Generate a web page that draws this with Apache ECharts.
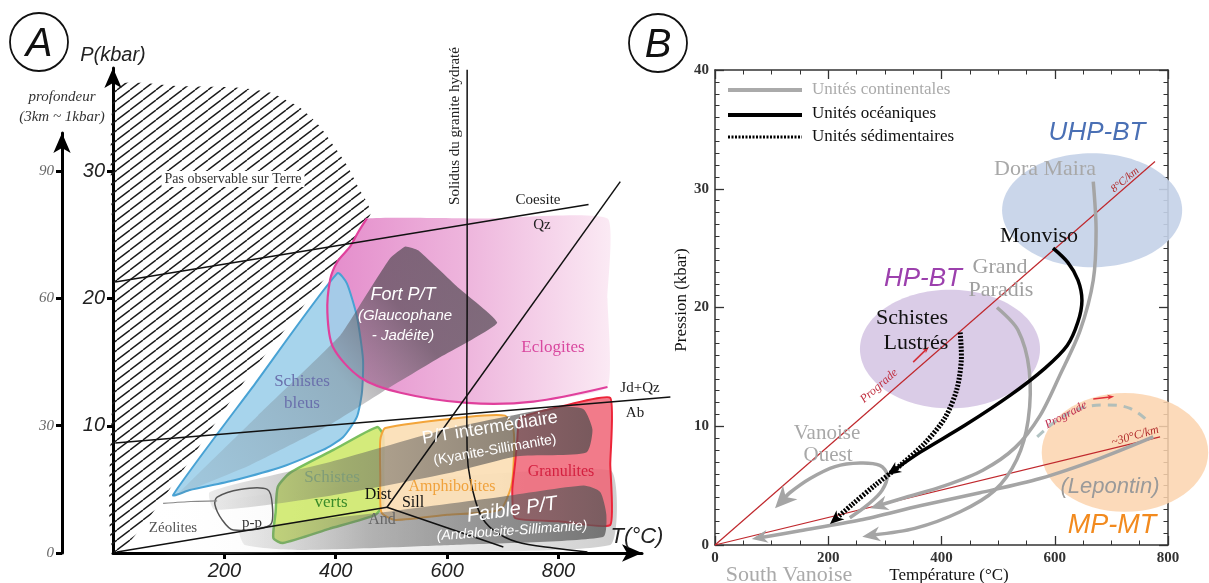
<!DOCTYPE html>
<html><head><meta charset="utf-8">
<script src="https://cdn.jsdelivr.net/npm/echarts@6/dist/echarts.min.js"></script>
<style>html,body{margin:0;padding:0;background:#fff}#c{width:1209px;height:583px}</style>
</head><body><div id="c"></div>
<script>
// ================= PANEL A data (T in °C, P in kbar) =================
const tempTicksA = [200, 400, 600, 800];
const presTicksA = [10, 20, 30];
const depthTicksA = [0, 30, 60, 90];
const hatchZone = [[4,0],[4,18],[4,36.6],[120,36.7],[219,36.6],[282,36.2],[336,35.0],[370,33.6],[395,32.1],[420,30.5],[440,28.8],[462,26.6],[233,13.3]];
const solidus = [[636,38.0],[636,20],[636,7.9],[642,5.7],[659,3.1],[683,1.8],[726,0.86],[791,0.39],[852,0.08]];
const coesiteQz = [[4,21.3],[854,27.4]];
const jdQzAb = [[4,8.65],[1001,12.26]];
const andDist = [[7,0.08],[492,3.6]];
const andSill = [[492,3.6],[701,0.47]];
const distSill = [[492,3.6],[911,29.2]];
const eclogiteEdge = [[888,13.05],[755,11.9],[636,11.8],[516,12.6],[444,13.8],[395,16.2],[385,18.9],[390,21.5],[403,22.9],[426,24.1],[440,25.2],[456,26.3]];
const eclogiteTop = [[672,26.3],[888,26.3],[888,20]];
const schistesBleus = [[108,4.56],[255,13.3],[403,22.0],[420,21.2],[438,18.6],[449,15.2],[447,12.6],[438,10.7],[413,9.1],[377,8.1],[305,6.8],[216,5.7],[138,4.95]];
const fortBand = [[111,4.4],[260,10.8],[408,17.1],[455,20.3],[498,23.2],[525,24.1],[548,23.8],[619,20.9],[690,18.1],[588,15.4],[485,12.7],[390,10.1],[246,6.9],[138,4.95]];
const schistesVerts = [[288,1.18],[292,3.2],[296,5.2],[318,6.3],[396,8.1],[474,9.9],[485,9.3],[485,6.5],[485,3.8],[471,3.0],[388,1.9],[305,0.79]];
const amphibolites = [[489,9.83],[636,10.7],[704,10.8],[719,9.7],[720,7.5],[715,5.2],[695,3.4],[600,3.0],[507,2.6],[482,3.2],[480,6.0],[480,8.9]];
const granulites = [[731,10.6],[803,11.5],[893,12.2],[893,7.0],[893,2.2],[800,2.5],[722,2.75],[717,4.95],[722,7.0],[726,8.9]];
const ptInterBand = [[174,4.8],[390,7.15],[606,9.8],[803,11.5],[845,11.3],[861,9.7],[850,7.9],[726,7.6],[606,6.3],[390,4.5],[183,3.4]];
const faibleBand = [[228,1.81],[485,3.2],[695,4.4],[845,5.3],[875,4.8],[886,3.0],[880,1.26],[606,0.63],[336,0.24],[237,0.63]];
const zeolitesZone = [[90,3.9],[187,4.1],[336,4.95],[893,6.5],[893,0.63],[336,0.08],[49,0.08]];
const zeoliteEdge = [[90,3.9],[140,4.05],[187,4.1]];
const ppZone = [[187,4.4],[228,5.0],[277,5.0],[286,3.8],[282,2.2],[216,1.8],[196,2.6],[183,3.8]];

// ================= PANEL B data (T in °C, P in kbar) =================
const uhpEllipse = [666, 28.2, 159, 4.8];   // centre T, centre P, radius T, radius P
const hpEllipse  = [415, 16.5, 159, 5.0];
const mpEllipse  = [724, 7.8, 147, 5.0];
const geotherm8  = [[0,0],[777,32.3]];
const geotherm30 = [[0,0],[786,9.1]];
const progradeArrow1 = [[350,15.4],[378,16.7]];
const progradeArrow2 = [[668,12.3],[705,12.5]];
const lepontinArc = [[569,9.1],[604,10.5],[645,11.5],[692,11.8],[733,11.5],[763,10.5]];
const monviso = [[597,25.0],[623,23.8],[641,22.3],[648,20.6],[641,18.8],[622,16.8],[583,14.9],[521,12.6],[442,10.1],[362,7.8],[304,5.9]];
const schistesLustres = [[433,17.9],[435,15.6],[427,13.1],[406,10.7],[371,8.6],[327,6.7],[283,5.05],[242,3.4],[203,1.77]];
const doraMaira = [[668,30.6],[673,26.5],[668,22.3],[645,18.1],[609,14.3],[574,10.9],[530,8.2],[473,6.3],[406,5.0],[336,4.0],[274,3.1]];
const grandParadis = [[498,20.0],[535,18.1],[555,14.7],[553,10.5],[533,7.2],[494,4.6],[433,2.8],[353,1.4],[260,0.7]];
const vanoiseOuest = [[238,2.3],[270,3.4],[295,4.6],[304,5.9],[291,6.7],[256,6.9],[212,6.6],[168,5.6],[132,4.4],[106,3.1]];
const lepontin = [[774,9.1],[680,7.3],[574,5.6],[468,4.4],[362,3.3],[256,2.1],[150,1.2],[65,0.5]];

// ================= helpers =================
const SERIF = "'Liberation Serif','DejaVu Serif',serif";
const SANS = "'Liberation Sans','DejaVu Sans',sans-serif";
const LG = (x0,y0,x1,y1,stops) => new echarts.graphic.LinearGradient(x0,y0,x1,y1,stops.map(s=>({offset:s[0],color:s[1]})));

const pc = document.createElement('canvas'); pc.width = 13; pc.height = 10;
(function(){ const g = pc.getContext('2d'); g.strokeStyle = '#1a1a1a'; g.lineWidth = 1.4;
  [-13,0,13].forEach(ox => { g.beginPath(); g.moveTo(ox,10); g.lineTo(ox+13,0); g.stroke(); }); })();
const hatchPattern = {image: pc, repeat: 'repeat'};

function polygonEl(c, pts, style, smooth){ return {type:'polygon', shape:{points:pts.map(c), smooth: smooth||0}, style: style}; }
function polylineEl(c, pts, style, smooth){ return {type:'polyline', shape:{points:pts.map(c), smooth: smooth||0}, style: Object.assign({fill:'none', lineJoin:'round'}, style)}; }
function pathWithArrow(c, path, style, L, W, smooth){
  const pts = path.map(c);
  const b = pts[pts.length-1], a = pts[pts.length-2];
  const dx=b[0]-a[0], dy=b[1]-a[1], d=Math.hypot(dx,dy)||1, ux=dx/d, uy=dy/d, nx=-uy, ny=ux;
  const linePts = pts.slice(0,-1).concat([[b[0]-ux*L*0.6, b[1]-uy*L*0.6]]);
  return [
    {type:'polyline', shape:{points:linePts, smooth:smooth||0}, style:Object.assign({fill:'none', lineJoin:'round'}, style)},
    {type:'polygon', shape:{points:[b,[b[0]-ux*L+nx*W/2, b[1]-uy*L+ny*W/2],[b[0]-ux*L*0.7, b[1]-uy*L*0.7],[b[0]-ux*L-nx*W/2, b[1]-uy*L-ny*W/2]]}, style:{fill: style.stroke}}
  ];
}

function renderA(params, api){
  const c = p => api.coord(p);
  const ch = [];
  ch.push(polygonEl(c, zeolitesZone, {fill: LG(0,0,1,0,[[0,'rgba(255,255,255,0)'],[1,'rgba(185,185,185,0.7)']])}, 0.15));
  ch.push(polygonEl(c, hatchZone, {fill: hatchPattern}, 0.2));
  ch.push(polygonEl(c, eclogiteEdge.concat(eclogiteTop), {fill: LG(0,0,1,0,[[0,'#e48ccb'],[0.5,'#eeb6dd'],[1,'#fbeaf4']])}, 0.15));
  ch.push(polygonEl(c, schistesBleus, {fill:'rgba(160,208,234,0.92)', stroke:'#48a2d4', lineWidth:2}, 0.2));
  ch.push(polygonEl(c, schistesVerts, {fill:'rgba(204,232,100,0.85)', stroke:'#7bbf5e', lineWidth:2.5}, 0.2));
  ch.push(polygonEl(c, amphibolites, {fill:'rgba(251,222,180,0.9)', stroke:'#f3a53a', lineWidth:2}, 0.2));
  ch.push(polygonEl(c, granulites, {fill:'rgba(240,100,118,0.85)', stroke:'#ec2438', lineWidth:2}, 0.15));
  ch.push(polygonEl(c, fortBand, {fill: LG(0,1,1,0,[[0,'rgba(120,120,125,0.12)'],[0.5,'rgba(105,105,110,0.35)'],[0.72,'rgba(85,75,85,0.7)'],[1,'rgba(85,75,85,0.75)']])}, 0.12));
  ch.push(polygonEl(c, ptInterBand, {fill: LG(0,0,1,0,[[0,'rgba(120,120,120,0.15)'],[0.35,'rgba(95,95,95,0.45)'],[1,'rgba(80,78,78,0.75)']])}, 0.2));
  ch.push(polygonEl(c, faibleBand, {fill: LG(0,0,1,0,[[0,'rgba(130,130,130,0.15)'],[0.35,'rgba(100,100,100,0.45)'],[1,'rgba(85,85,85,0.75)']])}, 0.2));
  ch.push(polylineEl(c, eclogiteEdge, {stroke:'#e0409c', lineWidth:2.2}, 0.3));
  ch.push(polygonEl(c, ppZone, {fill:'none', stroke:'#555', lineWidth:1.5}, 0.3));
  ch.push(polylineEl(c, zeoliteEdge, {stroke:'#888', lineWidth:1.2}, 0.2));
  const blk = {stroke:'#111', lineWidth:1.5};
  ch.push(polylineEl(c, solidus, blk, 0.3));
  ch.push(polylineEl(c, coesiteQz, blk));
  ch.push(polylineEl(c, jdQzAb, blk));
  ch.push(polylineEl(c, andDist, blk));
  ch.push(polylineEl(c, andSill, blk));
  ch.push(polylineEl(c, distSill, blk));
  return {type:'group', children: ch};
}

function renderB(params, api){
  const c = p => api.coord(p);
  const ch = [];
  const ell = (e, fill) => { const ctr = c([e[0], e[1]]); const s = api.size([e[2], e[3]]); return {type:'ellipse', shape:{cx:ctr[0], cy:ctr[1], rx:s[0], ry:s[1]}, style:{fill}}; };
  ch.push(ell(uhpEllipse, 'rgba(196,210,232,0.9)'));
  ch.push(ell(hpEllipse, 'rgba(214,198,228,0.9)'));
  ch.push(ell(mpEllipse, 'rgba(252,212,174,0.85)'));
  const red = {stroke:'#c0282d', lineWidth:1.2};
  ch.push(polylineEl(c, geotherm8, red));
  ch.push(polylineEl(c, geotherm30, red));
  ch.push(...pathWithArrow(c, progradeArrow1, {stroke:'#d4303a', lineWidth:1.6}, 7, 5));
  ch.push(...pathWithArrow(c, progradeArrow2, {stroke:'#e0303a', lineWidth:1.6}, 7, 5));
  ch.push(polylineEl(c, lepontinArc, {stroke:'rgba(165,185,185,0.85)', lineWidth:3, lineDash:[9,7]}, 0.4));
  const gray = {stroke:'#a5a5a5', lineWidth:3.5};
  ch.push(...pathWithArrow(c, lepontin, gray, 16, 13, 0.3));
  ch.push(...pathWithArrow(c, grandParadis, gray, 18, 15, 0.3));
  ch.push(...pathWithArrow(c, doraMaira, gray, 18, 15, 0.3));
  ch.push(...pathWithArrow(c, vanoiseOuest, gray, 22, 20, 0.35));
  ch.push(...pathWithArrow(c, monviso, {stroke:'#000', lineWidth:3.5}, 14, 12, 0.3));
  ch.push(...pathWithArrow(c, schistesLustres, {stroke:'#000', lineWidth:5, lineDash:[2,1.5]}, 14, 12, 0.3));
  return {type:'group', children: ch};
}

// ================= annotations (graphic) =================
function txt(x, y, s, font, fill, rot, extra){
  return {type:'text', x:x, y:y, rotation:(rot||0)*Math.PI/180, z:100, silent:true,
    style:Object.assign({text:s, font:font, fill:fill, align:'center', verticalAlign:'middle'}, extra||{})};
}
function circ(x, y, r){ return {type:'circle', z:100, silent:true, shape:{cx:x, cy:y, r:r}, style:{fill:'none', stroke:'#111', lineWidth:1.8}}; }
function seg(x1,y1,x2,y2,stroke,w,dash){ return {type:'line', z:100, silent:true, shape:{x1,y1,x2,y2}, style:{stroke, lineWidth:w, lineDash:dash||null}}; }

const graphics = [
  circ(39,42,29), txt(39,45,'A','italic 40px '+SANS,'#111'),
  txt(113,55,'P(kbar)','italic 20px '+SANS,'#222'),
  txt(62,97,'profondeur','italic 15px '+SERIF,'#333'),
  txt(62,117,'(3km ~ 1kbar)','italic 15px '+SERIF,'#333'),
  txt(233,179,'Pas observable sur Terre','14px '+SERIF,'#333',0,{backgroundColor:'#fff', padding:[1,3]}),
  txt(455,126,'Solidus du granite hydraté','15px '+SERIF,'#222',90),
  txt(538,200,'Coesite','15px '+SERIF,'#222'),
  txt(542,225,'Qz','15px '+SERIF,'#222'),
  txt(640,388,'Jd+Qz','15px '+SERIF,'#222'),
  txt(635,413,'Ab','15px '+SERIF,'#222'),
  txt(403,295,'Fort P/T','italic 18px '+SANS,'#fff'),
  txt(405,316,'(Glaucophane','italic 15px '+SANS,'#fff'),
  txt(403,336,'- Jadéite)','italic 15px '+SANS,'#fff'),
  txt(553,348,'Eclogites','17px '+SERIF,'#d9489f'),
  txt(302,382,'Schistes','17px '+SERIF,'#6a70ac'),
  txt(302,404,'bleus','17px '+SERIF,'#6a70ac'),
  txt(490,428,'P/T intermédiaire','18px '+SANS,'#fff',9),
  txt(495,450,'(Kyanite-Sillimanite)','14px '+SANS,'#fff',10),
  txt(452,487,'Amphibolites','16px '+SERIF,'#f0a23c'),
  txt(561,472,'Granulites','16px '+SERIF,'#d42040'),
  txt(512,510,'Faible P/T','italic 20px '+SANS,'#fff',8),
  txt(512,531,'(Andalousite-Sillimanite)','italic 14px '+SANS,'#fff',4),
  txt(332,478,'Schistes','17px '+SERIF,'#7f9c78'),
  txt(331,503,'verts','17px '+SERIF,'#3a8a2a'),
  txt(378,495,'Dist','16px '+SERIF,'#111'),
  txt(413,503,'Sill','16px '+SERIF,'#111'),
  txt(382,520,'And','16px '+SERIF,'#666'),
  txt(173,528,'Zéolites','15px '+SERIF,'#555'),
  txt(252,523,'p-p','15px '+SERIF,'#333'),
  txt(637,537,'T(°C)','italic 22px '+SANS,'#222'),

  circ(658,43,29), txt(658,46,'B','italic 40px '+SANS,'#111'),
  seg(728,90,802,90,'#aaa',4), seg(728,115,802,115,'#000',4), seg(728,137,802,137,'#000',3,[2,1.5]),
  txt(812,90,'Unités continentales','17px '+SERIF,'#aaa',0,{align:'left'}),
  txt(812,114,'Unités océaniques','17px '+SERIF,'#111',0,{align:'left'}),
  txt(812,137,'Unités sédimentaires','17px '+SERIF,'#111',0,{align:'left'}),
  txt(1097,133,'UHP-BT','italic 26px '+SANS,'#4a70b5'),
  txt(1045,169,'Dora Maira','22px '+SERIF,'#a8a8a8'),
  txt(1039,236,'Monviso','22px '+SERIF,'#111'),
  txt(923,279,'HP-BT','italic 26px '+SANS,'#9c40ad'),
  txt(1000,267,'Grand','22px '+SERIF,'#a0a0a0'),
  txt(1001,290,'Paradis','22px '+SERIF,'#a0a0a0'),
  txt(912,318,'Schistes','22px '+SERIF,'#111'),
  txt(916,343,'Lustrés','22px '+SERIF,'#111'),
  txt(1125,180,'8°C/km','italic 11px '+SERIF,'#b02a2a',40),
  txt(879,386,'Prograde','italic 12px '+SERIF,'#c03040',41),
  txt(1066,415,'Prograde','italic 12px '+SERIF,'#c03050',28),
  txt(1135,436,'~30°C/km','italic 12px '+SERIF,'#b02a2a',16),
  txt(1110,487,'(Lepontin)','italic 22px '+SANS,'#9a9a9a'),
  txt(1112,525,'MP-MT','italic 27px '+SANS,'#f28a1e'),
  txt(827,433,'Vanoise','21px '+SERIF,'#a8a8a8'),
  txt(828,455,'Ouest','21px '+SERIF,'#a8a8a8'),
  txt(789,575,'South Vanoise','22px '+SERIF,'#aaa'),
  txt(949,576,'Température (°C)','17px '+SERIF,'#111'),
  txt(682,300,'Pression (kbar)','17px '+SERIF,'#111',90)
];

// ================= axes =================
const axA = (extra) => Object.assign({
  type:'value', splitLine:{show:false},
  axisLine:{show:true, onZero:false, lineStyle:{color:'#000', width:3}, symbol:['none','arrow'], symbolSize:[13,20]},
}, extra);
const axB = (extra) => Object.assign({
  type:'value', splitLine:{show:false}, minorSplitLine:{show:false},
  axisLine:{show:true, onZero:false, lineStyle:{color:'#333', width:1.5}},
}, extra);
const tickB = {show:true, inside:true, length:9, lineStyle:{color:'#333', width:1.3}};
const minorB = (n) => ({show:true, splitNumber:n, length:4.5, lineStyle:{color:'#333', width:1}});
const labB = {fontFamily:SERIF, fontWeight:'bold', fontSize:15, color:'#333', margin:6};

const option = {
  animation:false,
  backgroundColor:'#fff',
  grid:[
    {left:113, top:68, width:529, height:485},
    {left:62, top:133, width:10, height:420},
    {left:715, top:70, width:453, height:475}
  ],
  xAxis:[
    axA({gridIndex:0, min:0, max:950,
      axisTick:{show:true, customValues:tempTicksA, length:6, lineStyle:{color:'#000', width:3}},
      axisLabel:{customValues:tempTicksA, fontFamily:SANS, fontStyle:'italic', fontSize:20, color:'#222', margin:8}}),
    {gridIndex:1, type:'value', show:false, min:0, max:1},
    axB({gridIndex:2, min:0, max:800, interval:200, position:'bottom', axisTick:tickB, minorTick:minorB(4), axisLabel:labB}),
    axB({gridIndex:2, min:0, max:800, interval:200, position:'top', axisTick:tickB, minorTick:minorB(4), axisLabel:{show:false}})
  ],
  yAxis:[
    axA({gridIndex:0, min:0, max:38.13,
      axisTick:{show:true, customValues:presTicksA, length:6, lineStyle:{color:'#000', width:3}},
      axisLabel:{customValues:presTicksA, fontFamily:SANS, fontStyle:'italic', fontSize:20, color:'#222', margin:8}}),
    axA({gridIndex:1, min:0, max:99,
      axisTick:{show:true, customValues:depthTicksA, length:6, lineStyle:{color:'#000', width:3}},
      axisLabel:{customValues:depthTicksA, fontFamily:SERIF, fontStyle:'italic', fontSize:15, color:'#666', margin:8}}),
    axB({gridIndex:2, min:0, max:40, interval:10, position:'left', axisTick:tickB, minorTick:minorB(10), axisLabel:labB}),
    axB({gridIndex:2, min:0, max:40, interval:10, position:'right', axisTick:tickB, minorTick:minorB(10), axisLabel:{show:false}})
  ],
  series:[
    {type:'custom', xAxisIndex:0, yAxisIndex:0, silent:true, clip:false, data:[[0,0]], renderItem:renderA, z:2},
    {type:'custom', xAxisIndex:2, yAxisIndex:2, silent:true, clip:false, data:[[0,0]], renderItem:renderB, z:2}
  ],
  graphic:{elements: graphics}
};
const chart = echarts.init(document.getElementById('c'), null, {renderer:'canvas'});
chart.setOption(option);
</script></body></html>
